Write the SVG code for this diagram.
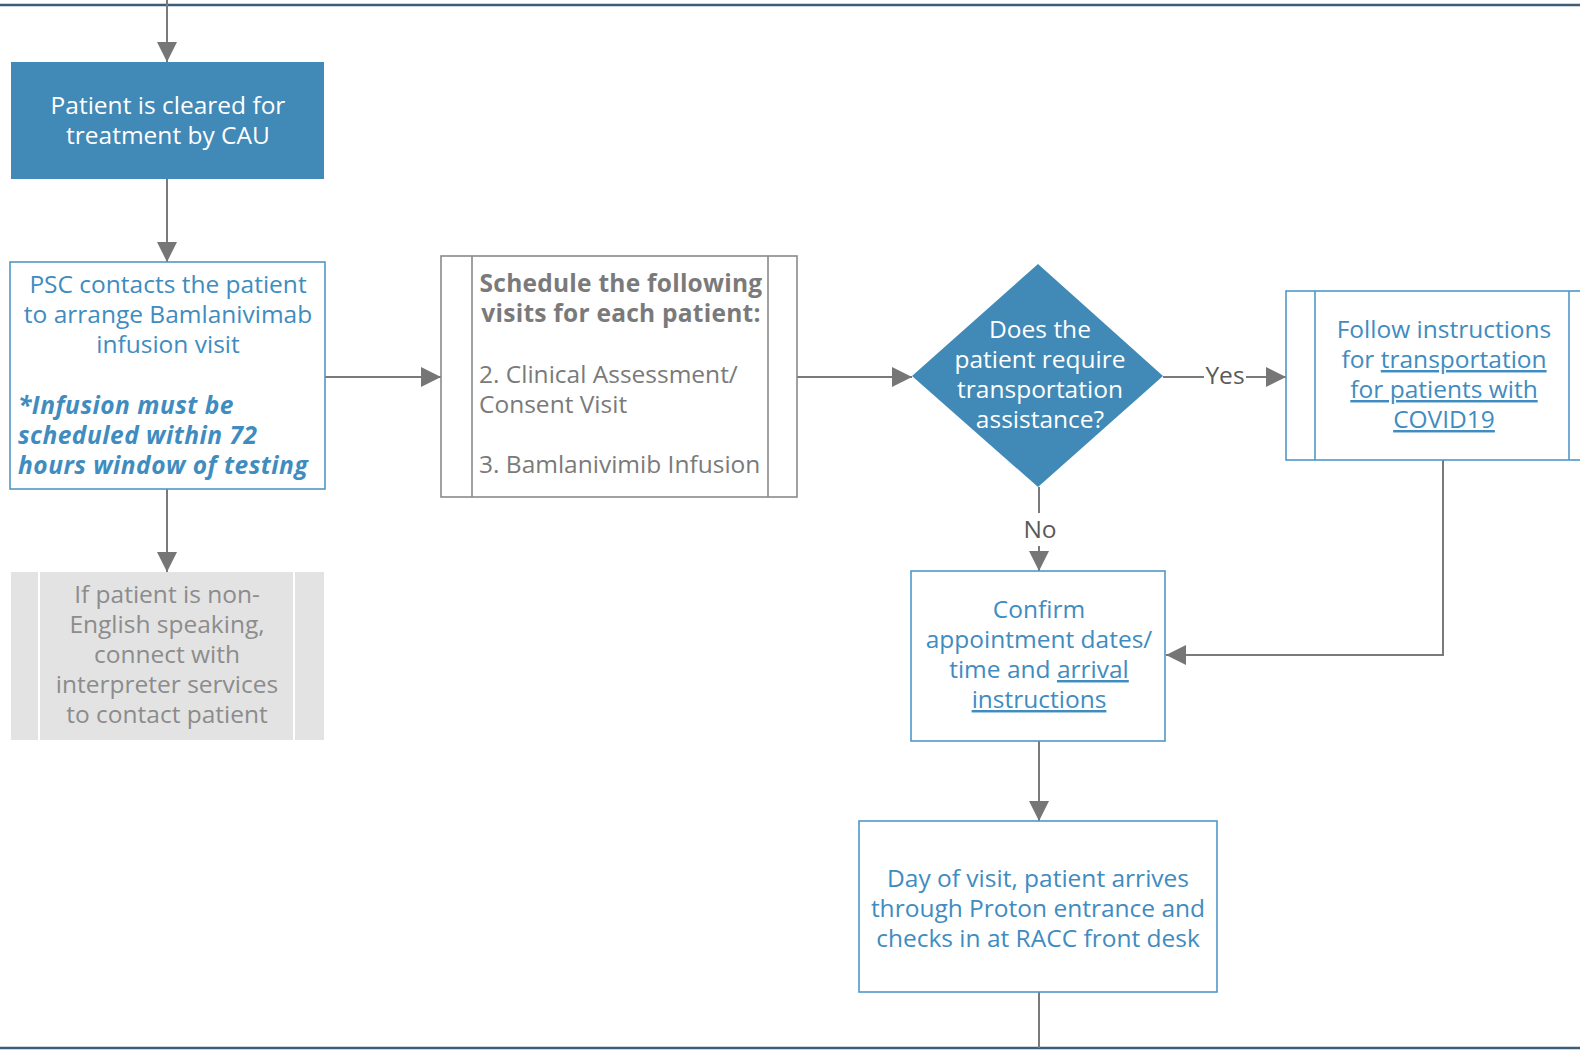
<svg xmlns="http://www.w3.org/2000/svg" width="1580" height="1050" viewBox="0 0 1580 1050">
  <defs>
    <marker id="arrow" viewBox="0 0 20 20" refX="20" refY="10" markerWidth="20" markerHeight="20" markerUnits="userSpaceOnUse" orient="auto">
      <path d="M0,0 L20,10 L0,20 z" fill="#767676"/>
    </marker>
    <style>
      text { font-family: "Open Sans", "Noto Sans", "Liberation Sans", sans-serif; font-size: 24.5px; }
      .b { font-weight: bold; letter-spacing: 0.25px; }
      .bi { font-weight: bold; font-style: italic; letter-spacing: 0.5px; }
      .frame { stroke: #3e5d76; stroke-width: 2.5; }
      .solid { fill: #4189b6; }
      .white { fill: #ffffff; text-anchor: middle; }
      .box { fill: #ffffff; stroke: #4f98c8; stroke-width: 1.6; }
      .blue { fill: #3f8cc0; }
      .mid { text-anchor: middle; }
      .gbox { fill: #ffffff; stroke: #8a8a8a; stroke-width: 1.6; }
      .gtext { fill: #7a7a7a; }
      .note { fill: #e3e3e3; }
      .notetext { fill: #8c8c8c; text-anchor: middle; }
      .conn { fill: none; stroke: #7a7a7a; stroke-width: 2; }
      .label { fill: #5a5a5a; text-anchor: middle; }
      .u { text-decoration: underline; }
    </style>
  </defs>

  <!-- page frame lines -->
  <line class="frame" x1="0" y1="5" x2="1580" y2="5"/>
  <line class="frame" x1="0" y1="1048" x2="1580" y2="1048"/>

  <!-- connectors -->
  <g id="connectors">
    <line class="conn" x1="167" y1="0" x2="167" y2="62" marker-end="url(#arrow)"/>
    <line class="conn" x1="167" y1="179" x2="167" y2="262" marker-end="url(#arrow)"/>
    <line class="conn" x1="167" y1="489" x2="167" y2="572" marker-end="url(#arrow)"/>
    <line class="conn" x1="325" y1="377" x2="441" y2="377" marker-end="url(#arrow)"/>
    <line class="conn" x1="797" y1="377" x2="912" y2="377" marker-end="url(#arrow)"/>
    <line class="conn" x1="1163" y1="377" x2="1204" y2="377"/>
    <line class="conn" x1="1246" y1="377" x2="1286" y2="377" marker-end="url(#arrow)"/>
    <text class="label" x="1225" y="384">Yes</text>
    <line class="conn" x1="1039" y1="487" x2="1039" y2="513"/>
    <line class="conn" x1="1039" y1="546" x2="1039" y2="571" marker-end="url(#arrow)"/>
    <text class="label" x="1040" y="538">No</text>
    <polyline class="conn" points="1443,460 1443,655 1166,655" marker-end="url(#arrow)"/>
    <line class="conn" x1="1039" y1="741" x2="1039" y2="821" marker-end="url(#arrow)"/>
    <line class="conn" x1="1039" y1="992" x2="1039" y2="1048"/>
  </g>

  <!-- cleared by CAU -->
  <g id="cleared">
    <rect class="solid" x="11" y="62" width="313" height="117"/>
    <text class="white" x="168" y="114">Patient is cleared for</text>
    <text class="white" x="168" y="144">treatment by CAU</text>
  </g>

  <!-- PSC contacts patient -->
  <g id="psc-contact">
    <rect class="box" x="10" y="262" width="315" height="227"/>
    <text class="blue mid" x="168" y="293">PSC contacts the patient</text>
    <text class="blue mid" x="168" y="323">to arrange Bamlanivimab</text>
    <text class="blue mid" x="168" y="353">infusion visit</text>
    <text class="blue bi" x="18" y="414">*Infusion must be</text>
    <text class="blue bi" x="18" y="444">scheduled within 72</text>
    <text class="blue bi" x="18" y="474">hours window of testing</text>
  </g>

  <!-- interpreter services note -->
  <g id="interpreter">
    <rect class="note" x="11" y="572" width="313" height="168"/>
    <line x1="39" y1="572" x2="39" y2="740" stroke="#ffffff" stroke-width="2"/>
    <line x1="294" y1="572" x2="294" y2="740" stroke="#ffffff" stroke-width="2"/>
    <text class="notetext" x="167" y="603">If patient is non-</text>
    <text class="notetext" x="167" y="633">English speaking,</text>
    <text class="notetext" x="167" y="663">connect with</text>
    <text class="notetext" x="167" y="693">interpreter services</text>
    <text class="notetext" x="167" y="723">to contact patient</text>
  </g>

  <!-- schedule visits -->
  <g id="schedule">
    <rect class="gbox" x="441" y="256" width="356" height="241"/>
    <line x1="472" y1="256" x2="472" y2="497" stroke="#8a8a8a" stroke-width="1.6"/>
    <line x1="768" y1="256" x2="768" y2="497" stroke="#8a8a8a" stroke-width="1.6"/>
    <text class="gtext mid b" x="621" y="292">Schedule the following</text>
    <text class="gtext mid b" x="621" y="322">visits for each patient:</text>
    <text class="gtext" x="479" y="383">2. Clinical Assessment/</text>
    <text class="gtext" x="479" y="413">Consent Visit</text>
    <text class="gtext" x="479" y="473">3. Bamlanivimib Infusion</text>
  </g>

  <!-- transportation decision -->
  <g id="transport-decision">
    <polygon class="solid" points="1038,264 1163,376 1038,487 912,376"/>
    <text class="white" x="1040" y="338">Does the</text>
    <text class="white" x="1040" y="368">patient require</text>
    <text class="white" x="1040" y="398">transportation</text>
    <text class="white" x="1040" y="428">assistance?</text>
  </g>

  <!-- transportation instructions -->
  <g id="transport-instructions">
    <rect class="box" x="1286" y="291" width="320" height="169"/>
    <line x1="1315" y1="291" x2="1315" y2="460" stroke="#4f98c8" stroke-width="1.6"/>
    <line x1="1569" y1="291" x2="1569" y2="460" stroke="#4f98c8" stroke-width="1.6"/>
    <text class="blue mid" x="1444" y="338">Follow instructions</text>
    <text class="blue mid" x="1444" y="368">for <tspan class="u">transportation</tspan></text>
    <text class="blue mid u" x="1444" y="398">for patients with</text>
    <text class="blue mid u" x="1444" y="428">COVID19</text>
  </g>

  <!-- confirm appointment -->
  <g id="confirm">
    <rect class="box" x="911" y="571" width="254" height="170"/>
    <text class="blue mid" x="1039" y="618">Confirm</text>
    <text class="blue mid" x="1039" y="648">appointment dates/</text>
    <text class="blue mid" x="1039" y="678">time and <tspan class="u">arrival</tspan></text>
    <text class="blue mid u" x="1039" y="708">instructions</text>
  </g>

  <!-- day of visit -->
  <g id="day-of-visit">
    <rect class="box" x="859" y="821" width="358" height="171"/>
    <text class="blue mid" x="1038" y="887">Day of visit, patient arrives</text>
    <text class="blue mid" x="1038" y="917">through Proton entrance and</text>
    <text class="blue mid" x="1038" y="947">checks in at RACC front desk</text>
  </g>
</svg>
